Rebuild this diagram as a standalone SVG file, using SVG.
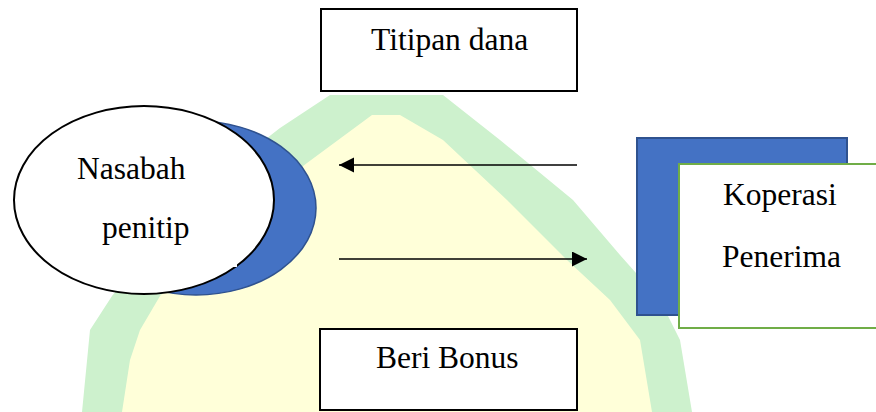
<svg xmlns="http://www.w3.org/2000/svg" width="876" height="412" viewBox="0 0 876 412">
<style>
.lbl{font-family:"Liberation Serif","Times New Roman",serif;font-size:31.5px;fill:#000}
.box{fill:#fff;stroke:#000;stroke-width:2}
.conn{stroke:#000;stroke-width:1.3;fill:none}
</style>
<defs>
<marker id="ah" markerWidth="16" markerHeight="16" refX="15" refY="7.5" orient="auto" markerUnits="userSpaceOnUse">
<path d="M0,0 L15,7.5 L0,15 Z" fill="#000"/>
</marker>
</defs>
<rect width="876" height="412" fill="#fff"/>
<g id="watermark">
<path d="M82,412 L90,330 L112,296 L200,190 L280,128 L330,95 L443,95 L500,140 L573,200 L620,255 L660,300 L680,340 L692,412 Z" fill="#CDF1CD"/>
<path d="M122,412 L130,360 L140,330 L160,296 L240,215 L307,163 L372,115 L400,115 L443,140 L507,200 L567,260 L610,300 L640,340 L652,412 Z" fill="#FFFFD9"/>
</g>
<g id="titipan">
<rect class="box" x="321" y="9" width="256" height="82"/>
<text class="lbl" x="371" y="50">Titipan dana</text>
</g>
<g id="bonus">
<rect class="box" x="320" y="329" width="257" height="81"/>
<text class="lbl" x="376" y="368">Beri Bonus</text>
</g>
<g id="nasabah">
<ellipse cx="196" cy="208" rx="120" ry="87" fill="#4472C4" stroke="#2F528F" stroke-width="1.5"/>
<ellipse cx="144" cy="200" rx="130" ry="94" fill="#fff" stroke="#000" stroke-width="2"/>
<rect x="233" y="261" width="4" height="6" fill="#fff"/>
<text class="lbl" x="77" y="179">Nasabah</text>
<text class="lbl" x="102" y="238">penitip</text>
</g>
<g id="koperasi">
<rect x="637" y="138" width="210" height="177" fill="#4472C4" stroke="#2F528F" stroke-width="2"/>
<rect x="679" y="164" width="210" height="164" fill="#fff" stroke="#70AD47" stroke-width="2"/>
<text class="lbl" x="723" y="205">Koperasi</text>
<text class="lbl" x="722" y="267">Penerima</text>
</g>
<g id="connectors">
<line class="conn" x1="577" y1="165" x2="339" y2="165" marker-end="url(#ah)"/>
<line class="conn" x1="339" y1="259" x2="587" y2="259" marker-end="url(#ah)"/>
</g>
</svg>
